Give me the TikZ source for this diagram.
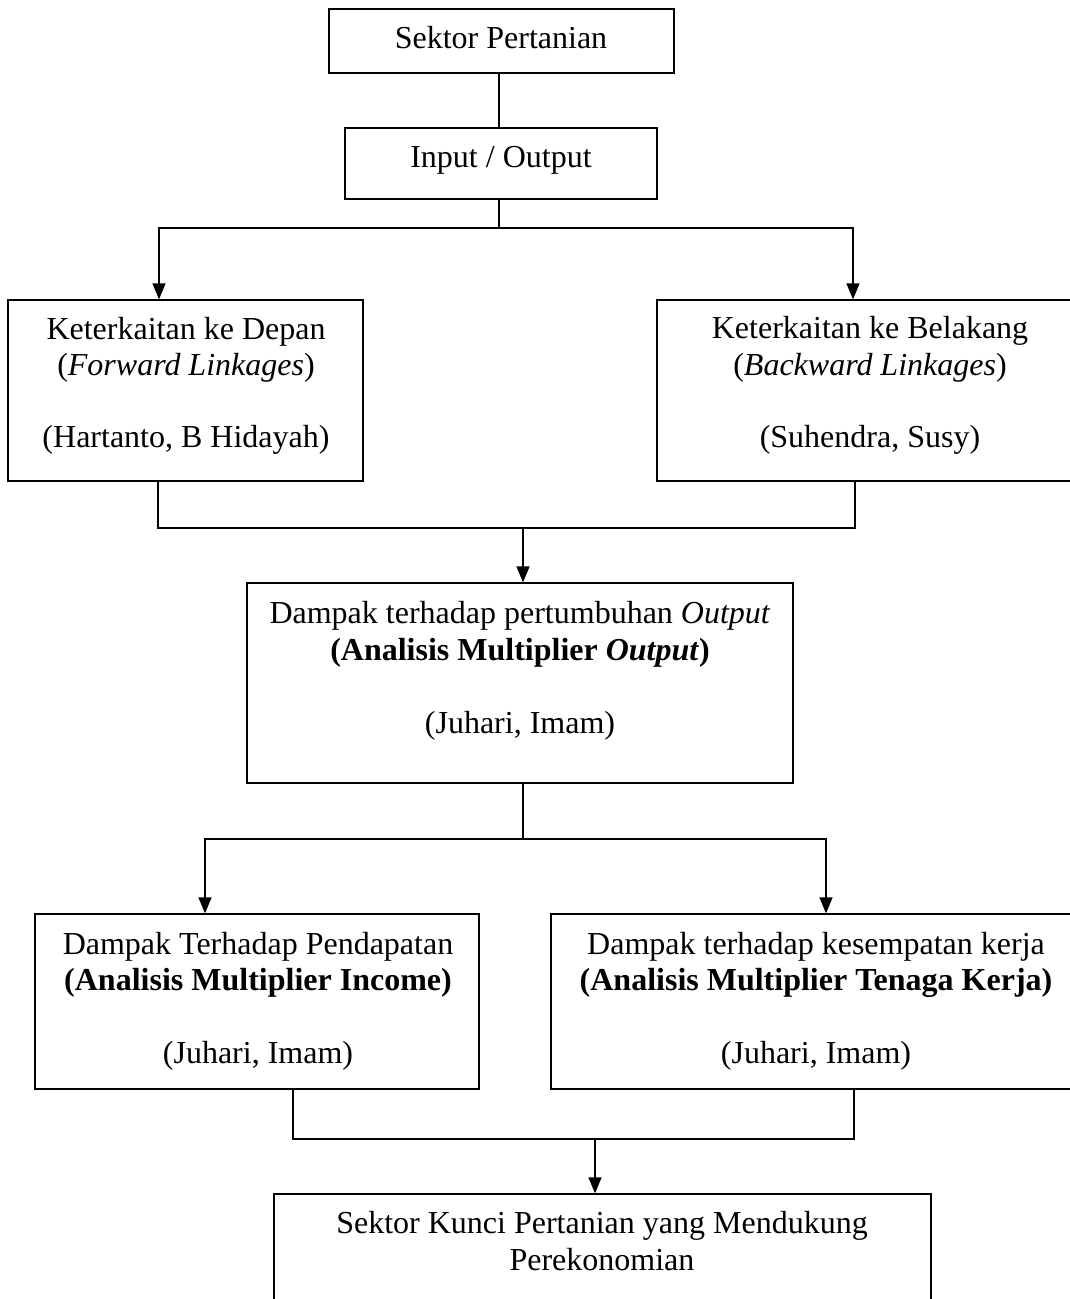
\documentclass[tikz,border=0pt]{standalone}
\usepackage{fontspec}
\setmainfont{Liberation Serif}
\usetikzlibrary{arrows.meta}
\tikzset{
  box/.style={draw, line width=1.3pt, rectangle, inner sep=0pt},
  txt/.style={anchor=base, inner sep=0pt, font=\fontsize{32}{36}\selectfont},
  conn/.style={line width=1.3pt},
  arr/.style={line width=1.3pt, -{Triangle[width=13pt,length=16pt]}}
}
\begin{document}
\begin{tikzpicture}[x=1pt,y=-1pt]
\useasboundingbox (0,0) rectangle (1070,1299);
\clip (0,0) rectangle (1070,1299);
% boxes
\node[box, minimum width=345, minimum height=64] (b1) at (501.5,41) {};
\node[box, minimum width=312, minimum height=71] (b2) at (501,163.5) {};
\node[box, minimum width=355, minimum height=181] (b3) at (185.5,390.5) {};
\node[box, minimum width=426, minimum height=181] (b4) at (870,390.5) {};
\node[box, minimum width=546, minimum height=200] (b5) at (520,683) {};
\node[box, minimum width=444, minimum height=175] (b6) at (257,1001.5) {};
\node[box, minimum width=530, minimum height=175] (b7) at (816,1001.5) {};
\node[box, minimum width=657, minimum height=136] (b8) at (602.5,1262) {};
% texts
\node[txt] (t1) at (501,48) {Sektor Pertanian};
\node[txt] (t2) at (501,167) {Input / Output};
\node[txt] (t3a) at (186,339) {Keterkaitan ke Depan};
\node[txt] (t3b) at (186,375) {(\textit{Forward Linkages})};
\node[txt] (t3c) at (186,447) {(Hartanto, B Hidayah)};
\node[txt] (t4a) at (870,338) {Keterkaitan ke Belakang};
\node[txt] (t4b) at (870,375) {(\textit{Backward Linkages})};
\node[txt] (t4c) at (870,447) {(Suhendra, Susy)};
\node[txt] (t5a) at (520,623) {Dampak terhadap pertumbuhan \textit{Output}};
\node[txt] (t5b) at (520,660) {\textbf{(Analisis Multiplier \textit{Output})}};
\node[txt] (t5c) at (520,733) {(Juhari, Imam)};
\node[txt] (t6a) at (258,954) {Dampak Terhadap Pendapatan};
\node[txt] (t6b) at (258,990) {\textbf{(Analisis Multiplier Income)}};
\node[txt] (t6c) at (258,1063) {(Juhari, Imam)};
\node[txt] (t7a) at (816,954) {Dampak terhadap kesempatan kerja};
\node[txt] (t7b) at (816,990) {\textbf{(Analisis Multiplier Tenaga Kerja)}};
\node[txt] (t7c) at (816,1063) {(Juhari, Imam)};
\node[txt] (t8a) at (602,1233) {Sektor Kunci Pertanian yang Mendukung};
\node[txt] (t8b) at (602,1270) {Perekonomian};
% connectors
\coordinate (s1) at (499,228);
\coordinate (s2) at (523,528);
\coordinate (s3) at (523,839);
\coordinate (s4) at (595,1139);
\draw[conn] ([xshift=-2.5pt]b1.south) -- ([xshift=-2.5pt]b1.south |- b2.north);
\draw[conn] (b2.south -| s1) -- (s1);
\draw[arr] (s1) -| ([xshift=-26.5pt]b3.north);
\draw[arr] (s1) -| ([xshift=-17pt]b4.north);
\draw[conn] ([xshift=-27.5pt]b3.south) |- (s2);
\draw[conn] ([xshift=-15pt]b4.south) |- (s2);
\draw[arr] (s2) -- ([xshift=3pt]b5.north);
\draw[conn] ([xshift=3pt]b5.south) -- (s3);
\draw[arr] (s3) -| ([xshift=-52pt]b6.north);
\draw[arr] (s3) -| ([xshift=10pt]b7.north);
\draw[conn] ([xshift=36pt]b6.south) |- (s4);
\draw[conn] ([xshift=38pt]b7.south) |- (s4);
\draw[arr] (s4) -- ([xshift=-7.5pt]b8.north);
\end{tikzpicture}
\end{document}
